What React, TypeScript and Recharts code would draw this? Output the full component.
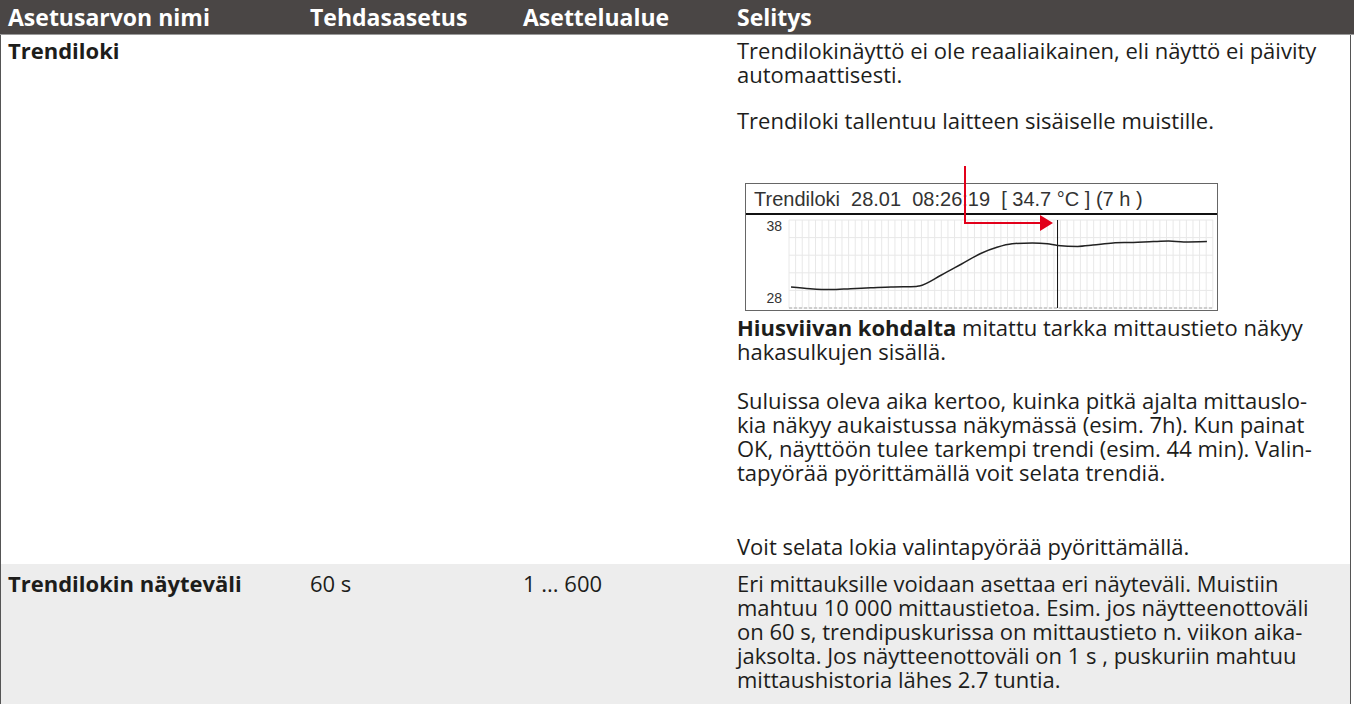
import React from 'react';
import { LineChart, Line, XAxis, YAxis, CartesianGrid, ReferenceLine } from 'recharts';

// trend log samples (minutes into the 7 h window, °C)
const minutes = [2, 21, 41, 61, 81, 101, 126, 129, 151, 171, 191, 206, 221, 241, 256, 266, 286, 301, 321, 341, 361, 376, 391, 414];
const temps = [30.4, 30.2, 30.1, 30.2, 30.3, 30.4, 30.45, 30.5, 31.75, 33.0, 34.25, 34.9, 35.3, 35.4, 35.3, 35.1, 35.0, 35.15, 35.4, 35.45, 35.55, 35.6, 35.5, 35.55];
const yTicks = [28, 38];
const yGridValues = [28, 30, 32, 34, 36, 38];
const cursorMinute = 266;
const windowMinutes = 420;

const headers = ['Asetusarvon nimi', 'Tehdasasetus', 'Asettelualue', 'Selitys'];
const colX = [8, 310, 523, 737];

const trendData = minutes.map((m, i) => ({ t: m, temp: temps[i] }));
const verticalGrid = Array.from({ length: 65 }, (_, i) => i * 6.56);

const textColor = '#1d1d1b';
const font = '"Open Sans", "Noto Sans", sans-serif';
const screenFont = '"Liberation Sans", Arial, sans-serif';
const lh = 24;

// recharts scale may be a plain d3 scale or a wrapper with map()
const applyScale = (axis: any, v: number): number => {
  const s = axis?.scale;
  if (!s) return NaN;
  return typeof s === 'function' ? s(v) : s.map(v);
};

const YTick = (props: any) => {
  const { x, y, payload } = props;
  const dy = payload.value === 38 ? 7 : -9;
  return (
    <text x={x} y={y + dy} textAnchor="end" dominantBaseline="middle" fontSize={14}
      fill="#333" fontFamily={screenFont}>
      {payload.value}
    </text>
  );
};

const Lines: React.FC<{ top: number; lines: React.ReactNode[] }> = ({ top, lines }) => (
  <div style={{ position: 'absolute', left: colX[3], top, lineHeight: lh + 'px', whiteSpace: 'nowrap' }}>
    {lines.map((l, i) => <div key={i}>{l}</div>)}
  </div>
);

const TrendScreen: React.FC = () => (
  <div style={{ position: 'absolute', left: 745, top: 183, width: 471, height: 126, border: '1px solid #666', background: '#fff' }}>
    <div style={{ height: 29, borderBottom: '2px solid #111', fontFamily: screenFont,
      fontSize: 20, color: '#333', lineHeight: '30px', paddingLeft: 8, whiteSpace: 'pre' }}>
      {'Trendiloki  28.01  08:26:19  [ 34.7 °C ] (7 h )'}
    </div>
    <LineChart width={471} height={95} data={trendData} margin={{ top: 5, right: 4, bottom: 2, left: 0 }}>
      <CartesianGrid stroke="#e8e8e8"
        horizontalCoordinatesGenerator={(p: any) => yGridValues.map(v => applyScale(p.yAxis, v))}
        verticalCoordinatesGenerator={(p: any) => verticalGrid.map(v => applyScale(p.xAxis, v))} />
      <XAxis dataKey="t" type="number" domain={[0, windowMinutes]} hide />
      <YAxis domain={[28, 38]} ticks={yTicks} interval={0} width={43} tickSize={0} tickMargin={7}
        axisLine={false} tickLine={false} tick={<YTick />} />
      <ReferenceLine y={28} stroke="#aaa" strokeDasharray="3 2" />
      <ReferenceLine x={cursorMinute} stroke="#111" strokeWidth={1} />
      <Line type="monotone" dataKey="temp" stroke="#222" strokeWidth={1.5} dot={false} isAnimationActive={false} />
    </LineChart>
  </div>
);

export default function App() {
  return (
    <div style={{ position: 'absolute', left: 0, top: 0, width: 1354, height: 704, overflow: 'hidden',
      background: '#fff', fontFamily: font, fontSize: 22, color: textColor }}>
      {/* header */}
      <div style={{ position: 'absolute', left: 0, top: 0, width: 1354, height: 34, background: '#4a4645',
        borderBottom: '1px solid #9a9a9a' }}>
        {headers.map((h, i) => (
          <div key={h} style={{ position: 'absolute', left: colX[i], top: 0, lineHeight: '35px', color: '#fff',
            fontWeight: 700, fontSize: 23 }}>{h}</div>
        ))}
      </div>
      {/* table borders */}
      <div style={{ position: 'absolute', left: 0, top: 35, width: 1, height: 669, background: '#555' }} />
      <div style={{ position: 'absolute', left: 1350, top: 35, width: 1, height: 669, background: '#555' }} />
      {/* second row background */}
      <div style={{ position: 'absolute', left: 1, top: 564, width: 1349, height: 140, background: '#ededed' }} />

      {/* row 1 */}
      <div style={{ position: 'absolute', left: colX[0], top: 38, lineHeight: lh + 'px', fontWeight: 700 }}>Trendiloki</div>
      <Lines top={38} lines={[
        'Trendilokinäyttö ei ole reaaliaikainen, eli näyttö ei päivity',
        'automaattisesti.',
      ]} />
      <Lines top={108} lines={['Trendiloki tallentuu laitteen sisäiselle muistille.']} />
      <TrendScreen />
      <svg width={1354} height={704} style={{ position: 'absolute', left: 0, top: 0, pointerEvents: 'none' }}>
        <path d="M965 166 V223 H1042" fill="none" stroke="#e2001a" strokeWidth={2} />
        <polygon points="1040,215 1053,223 1040,231" fill="#e2001a" />
      </svg>
      <Lines top={315} lines={[
        <span><b>Hiusviivan kohdalta</b> mitattu tarkka mittaustieto näkyy</span>,
        'hakasulkujen sisällä.',
      ]} />
      <Lines top={388} lines={[
        'Suluissa oleva aika kertoo, kuinka pitkä ajalta mittauslo-',
        'kia näkyy aukaistussa näkymässä (esim. 7h). Kun painat',
        'OK, näyttöön tulee tarkempi trendi (esim. 44 min). Valin-',
        'tapyörää pyörittämällä voit selata trendiä.',
      ]} />
      <Lines top={534} lines={['Voit selata lokia valintapyörää pyörittämällä.']} />

      {/* row 2 */}
      <div style={{ position: 'absolute', left: colX[0], top: 571, lineHeight: lh + 'px', fontWeight: 700 }}>Trendilokin näyteväli</div>
      <div style={{ position: 'absolute', left: colX[1], top: 571, lineHeight: lh + 'px' }}>60 s</div>
      <div style={{ position: 'absolute', left: colX[2], top: 571, lineHeight: lh + 'px' }}>1 ... 600</div>
      <Lines top={571} lines={[
        'Eri mittauksille voidaan asettaa eri näyteväli. Muistiin',
        'mahtuu 10 000 mittaustietoa. Esim. jos näytteenottoväli',
        'on 60 s, trendipuskurissa on mittaustieto n. viikon aika-',
        'jaksolta. Jos näytteenottoväli on 1 s , puskuriin mahtuu',
        'mittaushistoria lähes 2.7 tuntia.',
      ]} />
    </div>
  );
}
